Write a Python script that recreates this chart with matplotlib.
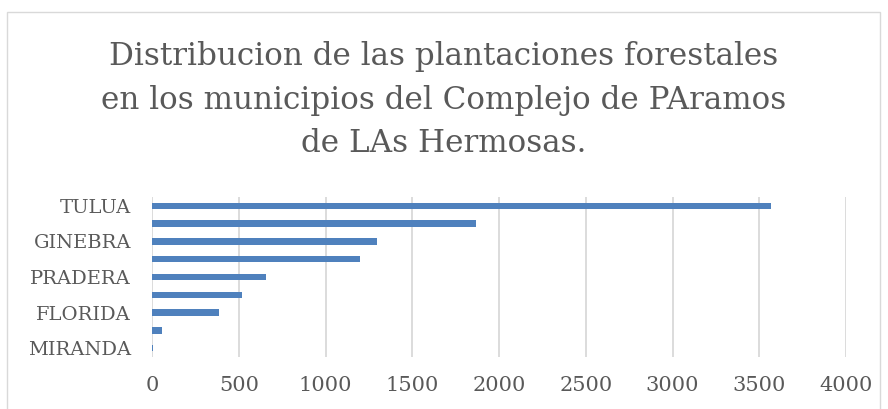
import matplotlib.pyplot as plt
from matplotlib.patches import Rectangle

# data (top to bottom as drawn); only every other label is shown in the chart
municipios = ["TULUA", "BUGA", "GINEBRA", "EL CERRITO", "PRADERA",
              "PALMIRA", "FLORIDA", "CHAPARRAL", "MIRANDA"]
hectareas = [3570, 1870, 1295, 1200, 655, 520, 388, 60, 4]
x_ticks = [0, 500, 1000, 1500, 2000, 2500, 3000, 3500, 4000]

titulo = ("Distribucion de las plantaciones forestales\n"
          "en los municipios del Complejo de PAramos\n"
          "de LAs Hermosas.")

gris = "#595959"
plt.rcParams["font.family"] = ["DejaVu Serif"]

fig = plt.figure(figsize=(8.88, 4.09), dpi=100)
ax = fig.add_axes([152 / 888, 1 - 357 / 409, 694 / 888, 160 / 409])

# outer chart border
fig.patches.append(Rectangle((7 / 888, -0.05), 873 / 888, 1 - 12 / 409 + 0.05,
                             transform=fig.transFigure, fill=False,
                             edgecolor="#d9d9d9", linewidth=1))

pos = list(range(len(municipios)))[::-1]
ax.barh(pos, hectareas, height=0.36, color="#4f81bd", zorder=3)

ax.set_xlim(0, 4000)
ax.set_ylim(-0.5, len(municipios) - 0.5)
ax.set_xticks(x_ticks)
ax.set_xticklabels([str(t) for t in x_ticks])
ax.set_yticks(pos[::2])
ax.set_yticklabels(municipios[::2])

ax.grid(axis="x", color="#d9d9d9", linewidth=1.3, zorder=0)
for s in ax.spines.values():
    s.set_visible(False)
ax.tick_params(axis="y", length=0, labelsize=14, colors=gris, pad=15)
ax.tick_params(axis="x", length=0, labelsize=15, colors=gris, pad=14)

fig.text(0.5, 1 - 100 / 409, titulo, ha="center", va="center",
         fontsize=22.3, color=gris, linespacing=1.5)

fig.savefig("out.png", dpi=100)
